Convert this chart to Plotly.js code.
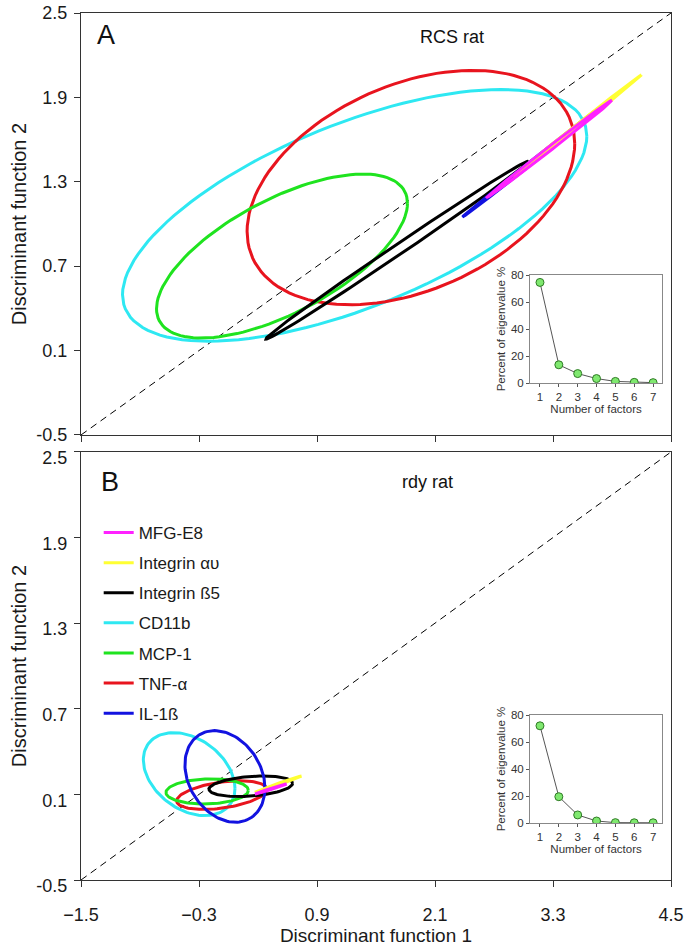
<!DOCTYPE html>
<html>
<head>
<meta charset="utf-8">
<script src="https://cdn.plot.ly/plotly-3.0.1.min.js"></script>
<style>
  html, body { margin: 0; padding: 0; background: #fff; }
  #chart { width: 686px; height: 951px; }
</style>
</head>
<body>
<div id="chart"></div>
<script>
// series (legend order)
const seriesNames = ['MFG-E8', 'Integrin \u03b1\u03c5', 'Integrin \u00df5', 'CD11b', 'MCP-1', 'TNF-\u03b1', 'IL-1\u00df'];
const seriesColors = ['#ff22ff', '#ffff33', '#000000', '#2ee8f2', '#1fe31f', '#e8141e', '#1212e0'];
// drawing order (back to front), as indices into seriesNames
const drawOrder = [3, 5, 4, 2, 6, 1, 0];

// ellipses (RCS rat): centre, half extent in x and y, phase (deg)
const rcsCenterX = [3.265, 3.55, 1.715, 1.283, 0.544, 1.855, 3.13];
const rcsCenterY = [1.535, 1.70, 0.814, 1.061, 0.772, 1.259, 1.465];
const rcsSpreadX = [0.635, 0.65, 1.334, 2.361, 1.276, 1.666, 0.75];
const rcsSpreadY = [0.345, 0.36, 0.632, 0.895, 0.583, 0.833, 0.415];
const rcsPhase   = [3, 2, 4, 51, 50, 68, 2];

// panel B (rdy rat)
const rdyCenterX = [0.431, 0.515, 0.227, -0.400, -0.217, -0.069, -0.036];
const rdyCenterY = [0.138, 0.174, 0.157, 0.242, 0.121, 0.095, 0.226];
const rdySpreadX = [0.161, 0.228, 0.425, 0.466, 0.419, 0.458, 0.407];
const rdySpreadY = [0.035, 0.055, 0.072, 0.291, 0.088, 0.100, 0.321];
const rdyPhase   = [8, 6, 73, 110, 85, 66, 105];

// diagonal reference line
const diagX = [-1.5, 4.5];
const diagY = [-0.5, 2.5];

// insets: percent of eigenvalue per factor
const factors = [1, 2, 3, 4, 5, 6, 7];
const rcsEigen = [74.5, 13.5, 7, 3.3, 1.2, 0.5, 0.3];
const rdyEigen = [72, 19.5, 6, 1.5, 0.3, 0.2, 0.2];

const xTicks = [-1.5, -0.3, 0.9, 2.1, 3.3, 4.5];
const yTicks = [-0.5, 0.1, 0.7, 1.3, 1.9, 2.5];

function ellipse(cx, cy, ax, by, phaseDeg) {
    const ph = phaseDeg * Math.PI / 180;
    const xs = [], ys = [];
    for (let i = 0; i <= 120; i++) {
        const t = 2 * Math.PI * i / 120;
        xs.push(cx + ax * Math.cos(t));
        ys.push(cy + by * Math.cos(t - ph));
    }
    return { x: xs, y: ys };
}

const traces = [];

traces.push({ x: diagX, y: diagY, xaxis: 'x2', yaxis: 'y2', mode: 'lines',
    line: { color: '#000', width: 1, dash: '7px,5px' }, showlegend: false, hoverinfo: 'skip' });
traces.push({ x: diagX, y: diagY, xaxis: 'x', yaxis: 'y', mode: 'lines',
    line: { color: '#000', width: 1, dash: '7px,5px' }, showlegend: false, hoverinfo: 'skip' });

drawOrder.forEach(function(i) {
    const e = ellipse(rcsCenterX[i], rcsCenterY[i], rcsSpreadX[i], rcsSpreadY[i], rcsPhase[i]);
    traces.push({ x: e.x, y: e.y, xaxis: 'x2', yaxis: 'y2', mode: 'lines',
        line: { color: seriesColors[i], width: 3 }, showlegend: false, name: seriesNames[i] });
});

drawOrder.forEach(function(i) {
    const e = ellipse(rdyCenterX[i], rdyCenterY[i], rdySpreadX[i], rdySpreadY[i], rdyPhase[i]);
    traces.push({ x: e.x, y: e.y, xaxis: 'x', yaxis: 'y', mode: 'lines',
        line: { color: seriesColors[i], width: 3 }, name: seriesNames[i],
        legendrank: i + 1, legendgroup: 'g' + i, showlegend: true });
});

const insetMarker = { size: 8, color: '#7fe86f', line: { color: '#2f7a25', width: 1 } };
traces.push({ x: factors, y: rcsEigen, xaxis: 'x3', yaxis: 'y3', mode: 'lines+markers',
    line: { color: '#555', width: 1 }, marker: insetMarker, showlegend: false });
traces.push({ x: factors, y: rdyEigen, xaxis: 'x4', yaxis: 'y4', mode: 'lines+markers',
    line: { color: '#555', width: 1 }, marker: insetMarker, showlegend: false });

const family = 'Liberation Sans, Arial, sans-serif';
const tickFont = { family: family, size: 18, color: '#1a1a1a' };
const smallFont = { family: family, size: 11.5, color: '#333' };

function mainX(anchor, labels) {
    return {
        anchor: anchor, range: [-1.5, 4.5], tickvals: xTicks, showticklabels: labels,
        ticks: 'outside', ticklen: 6, tickcolor: '#333', showline: true, mirror: true,
        linecolor: '#333', linewidth: 1, showgrid: false, zeroline: false,
        tickfont: tickFont, fixedrange: true
    };
}
function mainY(anchor, domain, shift) {
    return {
        anchor: anchor, domain: domain, range: [-0.5, 2.5], tickvals: yTicks,
        ticktext: yTicks.map(function(v) { return v.toFixed(1); }),
        ticks: 'outside', ticklen: 6, tickcolor: '#333', showline: true, mirror: true,
        linecolor: '#333', linewidth: 1, showgrid: false, zeroline: false,
        tickfont: tickFont, ticklabelstandoff: 3, ticklabelshift: shift,
        title: { text: 'Discriminant function 2', font: { family: family, size: 20, color: '#1a1a1a' }, standoff: 4 },
        fixedrange: true
    };
}
function insetX(anchor, domain) {
    return {
        anchor: anchor, domain: domain, range: [0.47, 7.48], tickvals: factors,
        ticks: 'outside', ticklen: 3, tickcolor: '#555', showline: true, mirror: true,
        linecolor: '#888', linewidth: 1, showgrid: false, zeroline: false,
        tickfont: smallFont, title: { text: 'Number of factors', font: smallFont, standoff: 1 },
        fixedrange: true
    };
}
function insetY(anchor, domain) {
    return {
        anchor: anchor, domain: domain, range: [0, 80], tickvals: [0, 20, 40, 60, 80],
        ticks: 'outside', ticklen: 3, tickcolor: '#555', showline: true, mirror: true,
        linecolor: '#888', linewidth: 1, showgrid: false, zeroline: false,
        tickfont: smallFont, title: { text: 'Percent of eigenvalue %', font: smallFont, standoff: 2 },
        fixedrange: true
    };
}

const xBottom = mainX('y', true);
xBottom.ticklabelstandoff = 12;
xBottom.title = { text: 'Discriminant function 1', font: { family: family, size: 19, color: '#1a1a1a' }, standoff: 4 };

function label(text, x, y, size) {
    return { text: text, xref: 'paper', yref: 'paper', x: x, y: y, xanchor: 'center', yanchor: 'middle',
        showarrow: false, font: { family: family, size: size, color: '#111' } };
}

const layout = {
    width: 686,
    height: 951,
    margin: { l: 81, r: 15, t: 13, b: 71 },
    paper_bgcolor: '#fff',
    plot_bgcolor: '#fff',
    font: tickFont,
    xaxis: xBottom,
    yaxis: mainY('x', [0, 0.4937], 6),
    xaxis2: mainX('y2', false),
    yaxis2: mainY('x2', [0.5133, 1], 0),
    xaxis3: insetX('y3', [0.761, 0.985]),
    yaxis3: insetY('x3', [0.5732, 0.6978]),
    xaxis4: insetX('y4', [0.761, 0.985]),
    yaxis4: insetY('x4', [0.0657, 0.1903]),
    showlegend: true,
    legend: {
        x: 0.03, y: 0.421, xanchor: 'left', yanchor: 'top',
        bgcolor: 'rgba(0,0,0,0)', font: { family: family, size: 17, color: '#1a1a1a' },
        traceorder: 'grouped', tracegroupgap: 5, itemwidth: 30
    },
    annotations: [
        label('A', 0.0424, 0.9746, 27),
        label('B', 0.049, 0.459, 27),
        label('RCS rat', 0.629, 0.9723, 18),
        label('rdy rat', 0.588, 0.459, 18)
    ]
};

Plotly.newPlot('chart', traces, layout, { staticPlot: true });
</script>
</body>
</html>
